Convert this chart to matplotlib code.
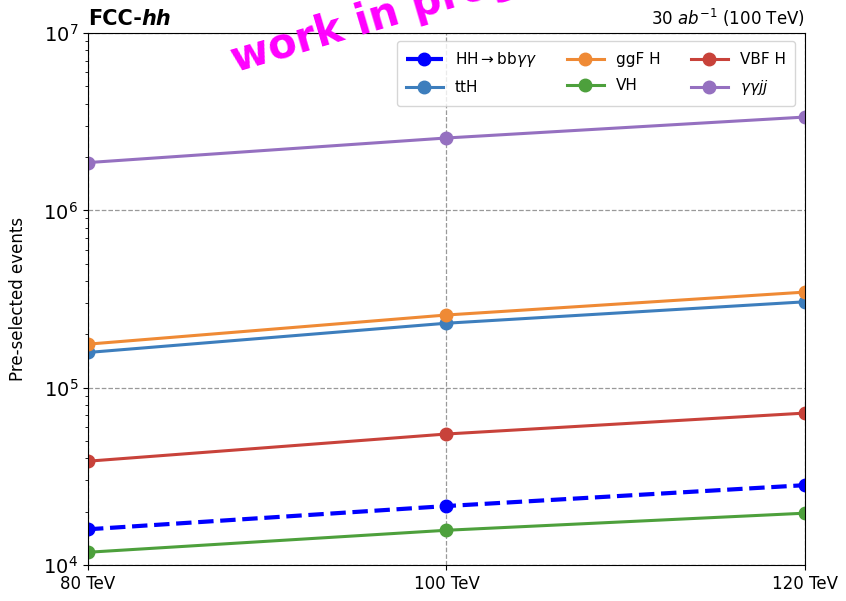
import matplotlib
matplotlib.use("Agg")
import matplotlib.pyplot as plt
import numpy as np

energies = [80, 100, 120]
energy_labels = ["80 TeV", "100 TeV", "120 TeV"]

hh_bbyy = [1.59e4, 2.15e4, 2.82e4]
tth = [1.58e5, 2.31e5, 3.05e5]
ggf_h = [1.76e5, 2.57e5, 3.46e5]
vh = [1.18e4, 1.57e4, 1.96e4]
vbf_h = [3.85e4, 5.48e4, 7.19e4]
yyjj = [1.86e6, 2.56e6, 3.36e6]

fig = plt.figure(figsize=(8.46, 6.01), dpi=100)
ax = fig.add_axes([0.104, 0.0599, 0.8475, 0.8851])

ms = 9
ax.plot(energies, hh_bbyy, color="#0000ff", ls="--", lw=3, marker="o", ms=ms,
        label=r"HH$\rightarrow$bb$\gamma\gamma$")
ax.plot(energies, tth, color="#3d7ebd", lw=2.2, marker="o", ms=ms, label="ttH")
ax.plot(energies, ggf_h, color="#ef8a35", lw=2.2, marker="o", ms=ms, label="ggF H")
ax.plot(energies, vh, color="#4da03c", lw=2.2, marker="o", ms=ms, label="VH")
ax.plot(energies, vbf_h, color="#c8423a", lw=2.2, marker="o", ms=ms, label="VBF H")
ax.plot(energies, yyjj, color="#9570c0", lw=2.2, marker="o", ms=ms, label=r"$\gamma\gamma jj$")

ax.set_yscale("log")
ax.set_ylim(1e4, 1e7)
ax.set_xlim(80, 120)
ax.set_xticks(energies)
ax.set_xticklabels(energy_labels, fontsize=12)
ax.tick_params(axis="y", labelsize=14)
ax.set_ylabel("Pre-selected events", fontsize=12, labelpad=12)
ax.grid(True, which="major", ls="--", color="gray", lw=0.9, alpha=0.8)

ax.legend(ncol=3, loc="upper right", fontsize=11, framealpha=0.8,
          handlelength=2.4, columnspacing=2.0, labelspacing=0.75,
          borderpad=0.6, bbox_to_anchor=(0.997, 1.0), borderaxespad=0.5)

t = ax.text(0.0, 1.008, "FCC-", transform=ax.transAxes, fontsize=15,
            fontweight="bold", ha="left", va="bottom")
ax.annotate("hh", xy=(1, 0), xycoords=t, fontsize=15, fontweight="bold",
            fontstyle="italic", ha="left", va="bottom")
ax.text(1.0, 1.008, r"30 $ab^{-1}$ (100 TeV)", transform=ax.transAxes,
        fontsize=12, ha="right", va="bottom")

fig.text(0.281, 0.866, "work in progress", color="#ff00ff", fontsize=30,
         fontweight="bold", rotation=16.5,
         ha="left", va="bottom", rotation_mode="anchor")

fig.savefig("out.png", dpi=100)
